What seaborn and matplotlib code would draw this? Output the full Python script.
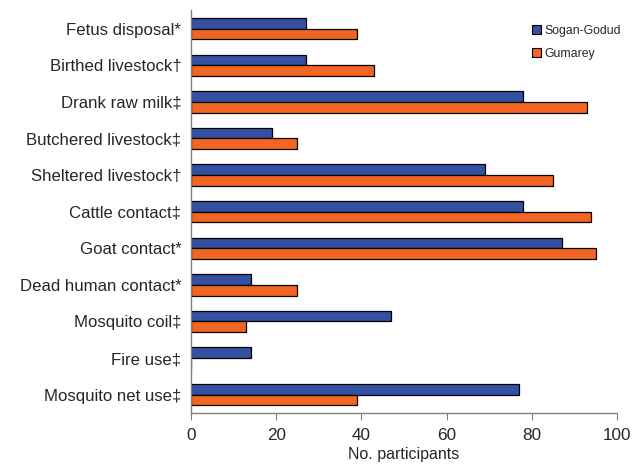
import matplotlib
matplotlib.use("Agg")
import matplotlib.pyplot as plt
import seaborn as sns
import pandas as pd
import numpy as np

categories = ["Fetus disposal*", "Birthed livestock†", "Drank raw milk‡", "Butchered livestock‡",
              "Sheltered livestock†", "Cattle contact‡", "Goat contact*", "Dead human contact*",
              "Mosquito coil‡", "Fire use‡", "Mosquito net use‡"]
sogan_godud = [27, 27, 78, 19, 69, 78, 87, 14, 47, 14, 77]
gumarey = [39, 43, 93, 25, 85, 94, 95, 25, 13, 0, 39]
series = ["Sogan-Godud", "Gumarey"]
colors = ["#3450A2", "#F26522"]
x_ticks = [0, 20, 40, 60, 80, 100]

df = pd.DataFrame({
    "category": categories * 2,
    "value": sogan_godud + gumarey,
    "site": [series[0]] * len(categories) + [series[1]] * len(categories),
})

sns.set_style("white")
plt.rcParams["font.family"] = ["Liberation Sans", "DejaVu Sans"]

fig = plt.figure(figsize=(6.42, 4.72), dpi=100)
ax = fig.add_axes([0.2975, 0.125, 0.6635, 0.853])

sns.barplot(data=df, y="category", x="value", hue="site", order=categories,
            hue_order=series, palette=colors, orient="h", width=0.58,
            edgecolor="black", linewidth=0.9, saturation=1, ax=ax, errorbar=None)

ax.set_xlim(0, 100)
ax.set_ylim(len(categories) - 0.5, -0.5)
ax.set_xticks(x_ticks)
ax.set_xticklabels([str(t) for t in x_ticks], fontsize=12.3)
ax.set_xlabel("No. participants", fontsize=11.5, labelpad=3)
ax.set_ylabel("")
ax.tick_params(axis="y", labelsize=12.1, length=0, pad=7)
ax.tick_params(axis="x", direction="out", length=5, width=0.8, color="#808080", pad=6, bottom=True)

for s in ["top", "right"]:
    ax.spines[s].set_visible(False)
for s in ["left", "bottom"]:
    ax.spines[s].set_color("#808080")
    ax.spines[s].set_linewidth(1.0)

leg = ax.legend(loc="upper right", bbox_to_anchor=(1.035, 0.992), frameon=False, fontsize=8.8,
                handlelength=0.8, handleheight=0.8, handletextpad=0.25, labelspacing=0.9)
for h in leg.legend_handles:
    h.set_edgecolor("black")
    h.set_linewidth(0.8)

fig.savefig("out.png", dpi=100)
